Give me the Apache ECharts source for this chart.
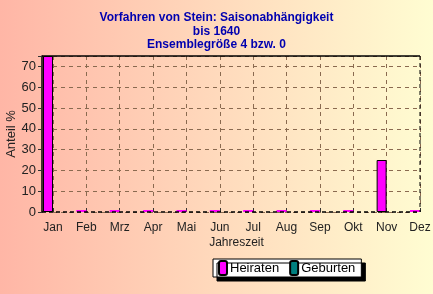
<!DOCTYPE html>
<html><head><meta charset="utf-8">
<script src="https://cdn.jsdelivr.net/npm/echarts@6/dist/echarts.min.js"></script>
<style>html,body{margin:0;padding:0;}#c{width:433px;height:294px;}</style>
</head><body><div id="c"></div>
<script>
const months = ['Jan','Feb','Mrz','Apr','Mai','Jun','Jul','Aug','Sep','Okt','Nov','Dez'];
const heiraten = [75,0,0,0,0,0,0,0,0,0,25,0];
const geburten = [0,0,0,0,0,0,0,0,0,0,0,0];
const yTicks = [0,10,20,30,40,50,60,70];
const titleLines = ['Vorfahren von Stein: Saisonabhängigkeit','bis 1640','Ensemblegröße 4 bzw. 0'];

const chart = echarts.init(document.getElementById('c'));
const dash = {color:'#8a6a50',type:[4,4],width:1};
chart.setOption({
  animation:false,
  backgroundColor:new echarts.graphic.LinearGradient(0,0,1,0,[{offset:0,color:'#ffb6a6'},{offset:1,color:'#fffdd2'}]),
  title:{text:titleLines.join('\n'),left:'center',top:6,
    textStyle:{color:'#0000b0',fontSize:12,fontWeight:'bold',fontFamily:'Liberation Sans',lineHeight:13.5}},
  grid:{left:53,right:13,top:56,bottom:82,outerBoundsMode:'none',containLabel:false},
  legend:{data:['Heiraten','Geburten'],left:213,top:259,itemWidth:8,itemHeight:14,itemGap:10,
    backgroundColor:'#ffffff',borderColor:'#000',borderWidth:1,padding:[1,6,1,5],
    shadowColor:'#000',shadowOffsetX:4,shadowOffsetY:4,
    textStyle:{fontFamily:'Liberation Sans',fontSize:13,color:'#000',padding:[0,0,0,-2]}},
  xAxis:{type:'category',data:months,boundaryGap:false,name:'Jahreszeit',nameLocation:'middle',nameGap:25,nameMoveOverlap:false,
    nameTextStyle:{fontFamily:'Liberation Sans',fontSize:12,color:'#222'},
    axisLine:{show:false},
    axisTick:{show:true,length:4,inside:true,lineStyle:{color:'#333'}},
    axisLabel:{margin:10,fontFamily:'Liberation Sans',fontSize:12,color:'#222'},
    splitLine:{show:true,lineStyle:dash}},
  yAxis:{type:'value',min:0,max:75,interval:10,offset:11,name:'Anteil %',nameLocation:'middle',nameGap:24,nameMoveOverlap:false,
    nameTextStyle:{fontFamily:'Liberation Sans',fontSize:13,color:'#222'},
    axisLine:{show:true,lineStyle:{color:'#000',width:1.5}},
    axisTick:{show:true,length:4,lineStyle:{color:'#333'}},
    axisLabel:{formatter:v=>yTicks.includes(v)?String(v):'',margin:6,fontFamily:'Liberation Sans',fontSize:13,color:'#222'},
    splitLine:{show:true,lineStyle:dash}},
  graphic:[
    {type:'line',shape:{x1:42,y1:56,x2:420,y2:56},style:{stroke:'#000',lineWidth:1.5},z:10},
    {type:'line',shape:{x1:420,y1:56,x2:420,y2:212},style:{stroke:'#000',lineWidth:1,lineDash:[4,3]},z:10},
    {type:'line',shape:{x1:42,y1:212,x2:420,y2:212},style:{stroke:'#000',lineWidth:1.5,lineDash:[4,3]},z:10}
  ],
  series:[
    {name:'Heiraten',type:'bar',barWidth:10,barGap:0,barMinHeight:2,clip:false,
      itemStyle:{color:'#ff00ff',borderColor:'#000',borderWidth:1},
      data:heiraten.map(v=>v?v:{value:v,itemStyle:{borderWidth:0}})},
    {name:'Geburten',type:'bar',barWidth:10,barGap:0,clip:false,
      itemStyle:{color:'#008080',borderColor:'#000',borderWidth:1},
      data:geburten.map(v=>v?v:{value:v,itemStyle:{borderWidth:0}})}
  ]
});
</script></body></html>
